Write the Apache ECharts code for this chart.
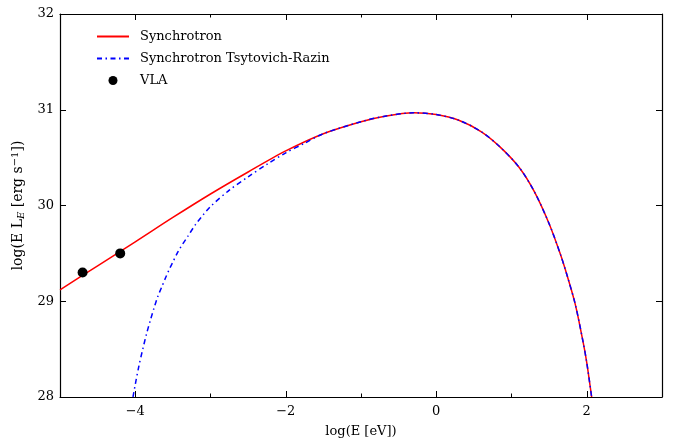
<!DOCTYPE html>
<html>
<head>
<meta charset="utf-8">
<script src="https://cdn.jsdelivr.net/npm/echarts@6/dist/echarts.min.js"></script>
<style>
  html, body { margin: 0; padding: 0; background: #fff; }
  #chart { width: 677px; height: 439px; }
</style>
</head>
<body>
<div id="chart"></div>
<script>
// 同步辐射谱 (log E, log E L_E)
const synchrotron = [
  [-5, 29.12], [-4.5, 29.37], [-4, 29.62], [-3.5, 29.875], [-3, 30.12],
  [-2.5, 30.35], [-2, 30.57], [-1.5, 30.75], [-1, 30.875], [-0.7, 30.93],
  [-0.3, 30.968], [0, 30.95], [0.3, 30.89], [0.6, 30.77], [0.85, 30.61],
  [1.1, 30.40], [1.3, 30.15], [1.5, 29.81], [1.65, 29.49], [1.75, 29.24],
  [1.85, 28.96], [1.95, 28.58], [2.0, 28.36], [2.065, 28.0]
]
// Tsytovich-Razin 效应后的谱
const razin = [
  [-4.03, 28.0], [-4.0, 28.13], [-3.95, 28.33], [-3.9, 28.5], [-3.85, 28.66],
  [-3.8, 28.8], [-3.75, 28.93], [-3.7, 29.05], [-3.65, 29.145], [-3.6, 29.24],
  [-3.55, 29.33], [-3.5, 29.41], [-3.45, 29.49], [-3.4, 29.56], [-3.3, 29.68],
  [-3.2, 29.8], [-3.1, 29.9], [-3.0, 29.99], [-2.75, 30.16], [-2.5, 30.3],
  [-2.25, 30.43], [-2.0, 30.55], [-1.75, 30.65], [-1.5, 30.75], [-1, 30.875],
  [-0.7, 30.93], [-0.3, 30.968], [0, 30.95], [0.3, 30.89], [0.6, 30.77],
  [0.85, 30.61], [1.1, 30.40], [1.3, 30.15], [1.5, 29.81], [1.65, 29.49],
  [1.75, 29.24], [1.85, 28.96], [1.95, 28.58], [2.0, 28.36], [2.065, 28.0]
]
// VLA 观测点
const vla = [[-4.70, 29.30], [-4.20, 29.50]]

const xMajor = [-4, -2, 0, 2]
const xMinor = [-3, -1, 1]

const font = 'DejaVu Serif'
const fmtMinus = v => String(v).replace('-', '\u2212')

function xAxisCfg(pos, ticks, len, main) {
  return {
    type: 'value', position: pos, min: -5, max: 3,
    axisLine: { show: main, onZero: false, lineStyle: { color: '#000', width: 1.2 } },
    axisTick: { show: true, inside: true, length: len, customValues: ticks,
      lineStyle: { color: '#000', width: 1 } },
    axisLabel: { show: main && pos === 'bottom', customValues: xMajor, margin: 8,
      color: '#000', fontFamily: font, fontSize: 13, formatter: fmtMinus },
    splitLine: { show: false },
    name: main && pos === 'bottom' ? 'log(E [eV])' : '',
    nameLocation: 'middle', nameGap: 28,
    nameTextStyle: { color: '#000', fontFamily: font, fontSize: 13 }
  }
}

function yAxisCfg(pos) {
  return {
    type: 'value', min: 28, max: 32, interval: 1, position: pos,
    axisLine: { show: true, onZero: false, lineStyle: { color: '#000', width: 1.2 } },
    axisTick: { inside: true, length: 6, lineStyle: { color: '#000' } },
    axisLabel: { show: pos === 'left', margin: 6, color: '#000', fontFamily: font, fontSize: 13 },
    splitLine: { show: false }
  }
}

const noMarker = { color: 'rgba(0,0,0,0)', opacity: 0, borderWidth: 0 }

const chart = echarts.init(document.getElementById('chart'))
chart.setOption({
  animation: false,
  grid: { left: 60, right: 15, top: 14, bottom: 42, outerBoundsMode: 'none', containLabel: false },
  legend: {
    orient: 'vertical', left: 96, top: 30, padding: 0,
    itemWidth: 32, itemHeight: 9, itemGap: 9,
    textStyle: { color: '#000', fontFamily: font, fontSize: 13, padding: [0, 0, 0, 6] },
    data: [
      { name: 'Synchrotron', itemStyle: noMarker },
      { name: 'Synchrotron Tsytovich-Razin', itemStyle: noMarker },
      { name: 'VLA', icon: 'circle' }
    ]
  },
  xAxis: [
    xAxisCfg('bottom', xMajor, 6, true),
    xAxisCfg('bottom', xMinor, 3.5, false),
    xAxisCfg('top', xMajor, 6, true),
    xAxisCfg('top', xMinor, 3.5, false)
  ],
  yAxis: [
    Object.assign(yAxisCfg('left'), {
      name: '{n|log(E L}{s|E}{n| [erg s}{p|\u22121}{n|])}',
      nameLocation: 'middle', nameGap: 28, nameRotate: 90,
      nameTextStyle: {
        color: '#000', fontFamily: font, fontSize: 14,
        rich: {
          n: { fontFamily: font, fontSize: 14, color: '#000', lineHeight: 18 },
          s: { fontFamily: font, fontSize: 10, fontStyle: 'italic', color: '#000',
            lineHeight: 18, padding: [6, 0, 0, 0] },
          p: { fontFamily: font, fontSize: 10, color: '#000', lineHeight: 18,
            padding: [0, 0, 6, 0] }
        }
      }
    }),
    yAxisCfg('right')
  ],
  series: [{
    name: 'Synchrotron', type: 'line', data: synchrotron,
    symbol: 'none', smooth: 0.3, clip: true,
    lineStyle: { color: '#ff0000', width: 1.5 },
    itemStyle: { color: '#ff0000' }
  }, {
    name: 'Synchrotron Tsytovich-Razin', type: 'line', data: razin,
    symbol: 'none', smooth: 0.3, clip: true,
    lineStyle: { color: '#0000ff', width: 1.5, type: [5, 3.5, 1.5, 3.5] },
    itemStyle: { color: '#0000ff' }
  }, {
    name: 'VLA', type: 'scatter', data: vla,
    symbol: 'circle', symbolSize: 10, z: 5,
    itemStyle: { color: '#000', opacity: 1 }
  }]
})
</script>
</body>
</html>
